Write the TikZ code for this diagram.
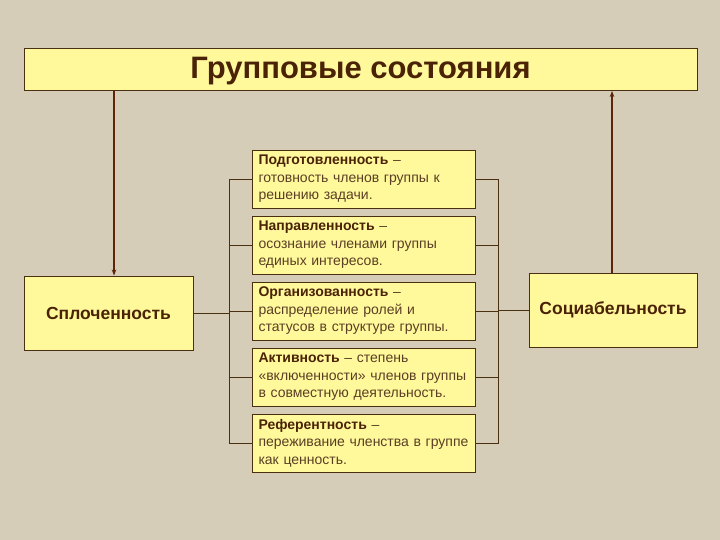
\documentclass[tikz,border=0pt]{standalone}
\usepackage{fontspec}
\setmainfont{Liberation Sans}
\usepackage{xcolor}
\usetikzlibrary{arrows.meta}
\definecolor{bgtan}{HTML}{D6CDB9}
\definecolor{boxfill}{HTML}{FFF99C}
\definecolor{boxline}{HTML}{4A3010}
\definecolor{txtbrown}{HTML}{4A2206}
\definecolor{bodybrown}{HTML}{5A3E24}
\definecolor{arrbrown}{HTML}{5E2408}
\newcommand{\hdword}[1]{\textcolor{txtbrown}{\bfseries #1}}

\begin{document}
\begin{tikzpicture}[x=1pt,y=-1pt,
  box/.style={draw=boxline,fill=boxfill,line width=0.9pt,inner sep=0pt,text=txtbrown},
  prop/.style={box,minimum width=223pt,minimum height=58pt,text width=210pt,align=left,
    text=bodybrown,font=\fontsize{14}{17.5}\selectfont},
  side/.style={box,minimum height=74pt,font=\fontsize{17.5}{20}\selectfont\bfseries},
  arr/.style={-{Stealth[length=6pt,width=4.5pt]},arrbrown,line width=1.6pt},
  link/.style={boxline,line width=0.8pt}]
  % Background
  \fill[bgtan] (0,0) rectangle (720,540);
  % Title
  \node[box,minimum width=673pt,minimum height=42pt,text height=20pt,text depth=1pt,
    font=\fontsize{31}{34}\selectfont\bfseries] (title) at (360.5,69.5) {Групповые состояния};
  % Side boxes
  \node[side,minimum width=169pt] (sploch) at (108.5,313) {Сплоченность};
  \node[side,minimum width=168pt] (social) at (613,310) {Социабельность};
  % Middle column
  \node[prop] (ready) at (363.5,179) {\hdword{Подготовленность} --\\готовность членов группы к\\решению задачи.};
  \node[prop] (direct) at (363.5,245) {\hdword{Направленность} --\\осознание членами группы\\единых интересов.};
  \node[prop] (organ) at (363.5,311) {\hdword{Организованность} --\\распределение ролей и\\статусов в структуре группы.};
  \node[prop] (activ) at (363.5,377) {\hdword{Активность} -- степень\\«включенности» членов группы\\в совместную деятельность.};
  \node[prop] (refer) at (363.5,443) {\hdword{Референтность} --\\переживание членства в группе\\как ценность.};
  % Brackets
  \coordinate (lspine) at (229,0);
  \coordinate (rspine) at (498,0);
  \draw[link] (ready.west) -- (ready.west -| lspine) -- (refer.west -| lspine) -- (refer.west);
  \draw[link] (ready.east) -- (ready.east -| rspine) -- (refer.east -| rspine) -- (refer.east);
  \foreach \n in {direct,organ,activ}{
    \draw[link] (\n.west) -- (\n.west -| lspine);
    \draw[link] (\n.east) -- (\n.east -| rspine);
  }
  \draw[link] (sploch.east) -- (sploch.east -| lspine);
  \draw[link] (social.west) -- (social.west -| rspine);
  % Arrows
  \coordinate (ldrop) at (114,0);
  \coordinate (rrise) at (612,0);
  \draw[arr] (title.south -| ldrop) -- (sploch.north -| ldrop);
  \draw[arr] (social.north -| rrise) -- (title.south -| rrise);
\end{tikzpicture}
\end{document}
